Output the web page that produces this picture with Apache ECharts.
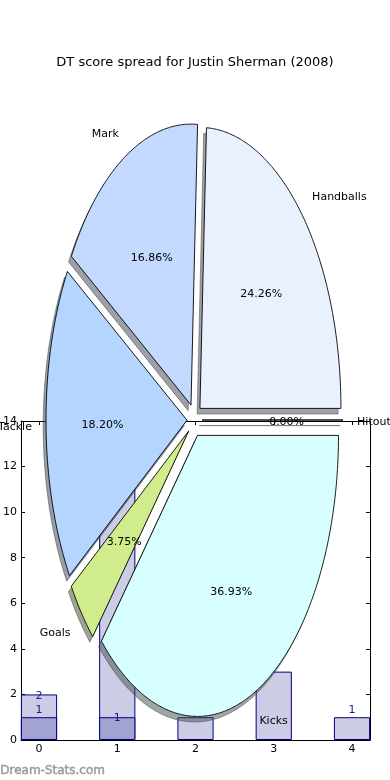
<!DOCTYPE html>
<html><head><meta charset="utf-8">
<script src="https://cdn.jsdelivr.net/npm/echarts@6/dist/echarts.min.js"></script>
<style>html,body{margin:0;padding:0;background:#fff}#c{width:390px;height:780px}</style>
</head><body><div id="c"></div>
<script>
// ---- data ----
const titleText = 'DT score spread for Justin Sherman (2008)';
const pieLabels = ['Hitout', 'Handballs', 'Mark', 'Tackle', 'Goals', 'Kicks'];
const pieShares = [0.00, 24.26, 16.86, 18.20, 3.75, 36.93];
const barCategories = [0, 1, 2, 3, 4];
const barTotals = [2, 13, 1, 3, 1];
const barSubset = [1, 1, 0, 0, 0];
const yTickValues = [0, 2, 4, 6, 8, 10, 12, 14];
const watermark = 'Dream-Stats.com';

// ---- styles / layout ----
const pieColors = ['#ffffff', '#e9f1ff', '#c4d9ff', '#b4d5ff', '#d0ec8c', '#d8ffff'];
const PIE = { cx: 194.5, cy: 420, rx: 141, ry: 281, exX: 7.5, exY: 16.8, sdx: -2.8, sdy: 5.6,
              pctR: 0.6, labR: 1.1, textDy: 2.5 };
const FONT = '"DejaVu Sans", "Liberation Sans", sans-serif';
const barLight = '#ccccE6', barDark = '#a3a3d1', barEdge = '#000080', barText = '#1a1a95';

function shadowColor(hex) {
  const r = parseInt(hex.slice(1, 3), 16), g = parseInt(hex.slice(3, 5), 16), b = parseInt(hex.slice(5, 7), 16);
  return 'rgba(' + Math.round(r * 0.3) + ',' + Math.round(g * 0.3) + ',' + Math.round(b * 0.3) + ',0.5)';
}

const pieTotal = pieShares.reduce((a, b) => a + b, 0);

function renderWedge(params, api) {
  const i = params.dataIndex;
  let start = 0;
  for (let k = 0; k < i; k++) start += pieShares[k];
  const v = api.value(0);
  const t1 = start / pieTotal * 2 * Math.PI;
  const t2 = (start + v) / pieTotal * 2 * Math.PI;
  const tm = (t1 + t2) / 2;
  const c = Math.cos(tm), s = Math.sin(tm);
  const ox = PIE.cx + PIE.exX * c;
  const oy = PIE.cy - PIE.exY * s;
  const pts = [[ox, oy]];
  const n = Math.max(2, Math.ceil((t2 - t1) / (Math.PI / 360)));
  for (let j = 0; j <= n; j++) {
    const t = t1 + (t2 - t1) * j / n;
    pts.push([ox + PIE.rx * Math.cos(t), oy - PIE.ry * Math.sin(t)]);
  }
  const spts = pts.map(p => [p[0] + PIE.sdx, p[1] + PIE.sdy]);
  const sc = shadowColor(pieColors[i]);
  return {
    type: 'group',
    children: [
      { type: 'polygon', z2: 0, shape: { points: spts },
        style: { fill: sc, stroke: sc, lineWidth: 1 } },
      { type: 'polygon', z2: 10, shape: { points: pts },
        style: { fill: pieColors[i], stroke: '#000', lineWidth: 0.9 } },
      { type: 'text', z2: 20,
        x: ox + PIE.pctR * PIE.rx * c, y: oy - PIE.pctR * PIE.ry * s + PIE.textDy,
        style: { text: v.toFixed(2) + '%', fill: '#000', fontSize: 11, fontFamily: FONT,
                 align: 'center', verticalAlign: 'middle' } },
      { type: 'text', z2: 20,
        x: ox + PIE.labR * PIE.rx * c, y: oy - PIE.labR * PIE.ry * s + PIE.textDy,
        style: { text: pieLabels[i], fill: '#000', fontSize: 11, fontFamily: FONT,
                 align: c >= 0 ? 'left' : 'right', verticalAlign: 'middle' } }
    ]
  };
}

const totalLabelOffset = [[0, 9], [0, 0], [0, 0], [0, 0], [0, 0]];
const subLabelOffset = [[0, 0], [0, 8], [0, 0], [0, 0], [0, 0]];

const axisCommon = {
  type: 'value', min: -0.23, max: 4.23,
  axisLine: { show: true, onZero: false, lineStyle: { color: '#000', width: 1 } },
  splitLine: { show: false },
  axisTick: { show: true, inside: true, length: 4, customValues: barCategories, lineStyle: { color: '#000' } }
};
const yCommon = {
  type: 'value', min: 0, max: 14, interval: 2,
  axisLine: { show: true, onZero: false, lineStyle: { color: '#000', width: 1 } },
  splitLine: { show: false },
  axisTick: { show: true, inside: true, length: 4, lineStyle: { color: '#000' } }
};

const chart = echarts.init(document.getElementById('c'), null, { renderer: 'canvas' });
chart.setOption({
  animation: false,
  backgroundColor: '#fff',
  title: {
    text: titleText, left: 'center', top: 51,
    textStyle: { fontSize: 13, fontWeight: 'normal', fontFamily: FONT, color: '#000' }
  },
  grid: { left: 19, top: 421, right: 20, bottom: 40, containLabel: false },
  xAxis: [
    Object.assign({}, axisCommon, {
      position: 'bottom',
      axisLabel: { show: true, customValues: barCategories, fontSize: 11, fontFamily: FONT, color: '#000', margin: 4 }
    }),
    Object.assign({}, axisCommon, { position: 'top', axisLabel: { show: false } })
  ],
  yAxis: [
    Object.assign({}, yCommon, {
      position: 'left',
      axisLabel: { show: true, fontSize: 11, fontFamily: FONT, color: '#000', margin: 4, customValues: yTickValues }
    }),
    Object.assign({}, yCommon, { position: 'right', axisLabel: { show: false } })
  ],
  graphic: [{
    type: 'text', left: 0, top: 765,
    style: { text: watermark, fill: '#9c9c9c', stroke: '#9c9c9c', lineWidth: 0.5,
             fontSize: 12, fontWeight: 'normal', fontFamily: FONT }
  }],
  series: [
    {
      type: 'bar', z: 2, xAxisIndex: 0, yAxisIndex: 0,
      barWidth: 0.46 / 4.46 * 351, barGap: '-100%',
      data: barCategories.map((x, i) => ({
        value: [x, barTotals[i]],
        label: { offset: totalLabelOffset[i] }
      })),
      itemStyle: { color: barLight, borderColor: barEdge, borderWidth: 1 },
      label: { show: true, position: 'top', distance: 2, color: barText, fontSize: 11, fontFamily: FONT },
      silent: true
    },
    {
      type: 'bar', z: 2, xAxisIndex: 0, yAxisIndex: 0,
      barWidth: 0.46 / 4.46 * 351, barGap: '-100%',
      data: barCategories.map((x, i) => ({
        value: [x, barSubset[i]],
        label: { show: barSubset[i] > 0, offset: subLabelOffset[i] },
        itemStyle: barSubset[i] > 0 ? {} : { borderWidth: 0 }
      })),
      itemStyle: { color: barDark, borderColor: barEdge, borderWidth: 1 },
      label: { show: true, position: 'top', distance: 2, color: barText, fontSize: 11, fontFamily: FONT },
      silent: true
    },
    {
      type: 'custom', z: 5, coordinateSystem: 'none', silent: true,
      renderItem: renderWedge,
      data: pieShares.map(v => [v])
    }
  ]
});
</script>
</body></html>
